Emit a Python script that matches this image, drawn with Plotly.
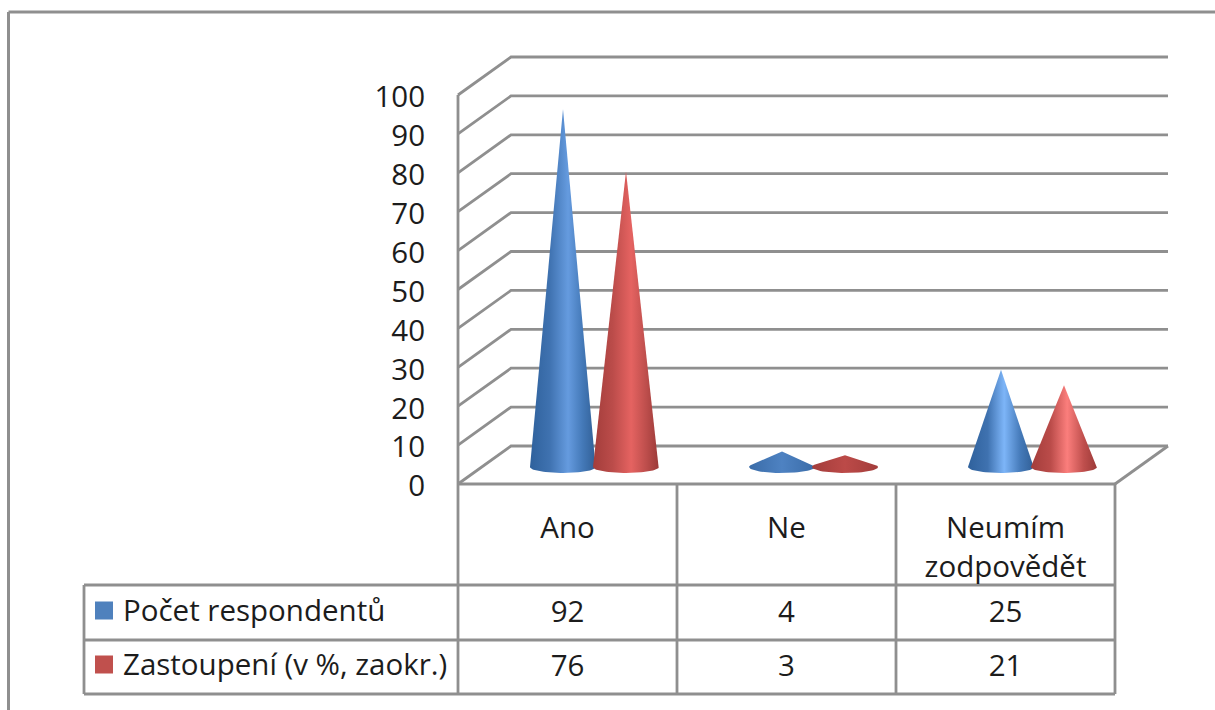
import math
import plotly.graph_objects as go

categories = ["Ano", "Ne", "Neumím<br>zodpovědět"]
series_names = ["Počet respondentů", "Zastoupení (v %, zaokr.)"]
pocet = [92, 4, 25]
zastoupeni = [76, 3, 21]
y_ticks = [0, 10, 20, 30, 40, 50, 60, 70, 80, 90, 100]

W, H = 1215, 710
X0, Y0 = 458, 484        # pixel of category 0, value 0
PX_CAT, PX_VAL = 219, 3.89


def xd(px):
    return (px - X0) / PX_CAT


def yd(py):
    return (Y0 - py) / PX_VAL


GRID = "#8f8f8f"
TXT = "#1c1c1c"
FONT = "Open Sans"
FS = 29.5

DEPTH_X = 53 / PX_CAT
DEPTH_Y = 38 / PX_VAL
BASE_Y = 17 / PX_VAL
CONE_A = 33 / PX_CAT
CONE_B = 6 / PX_VAL
OFFS = [105 / PX_CAT, 168 / PX_CAT]

tall_blue = [[0, "#2f619c"], [0.3, "#3f72b0"], [0.58, "#659bdf"], [0.8, "#4479b8"], [1, "#315f96"]]
tall_red = [[0, "#a33d3b"], [0.3, "#bb4c4a"], [0.58, "#e56361"], [0.8, "#bf4f4d"], [1, "#9c3a38"]]
mid_blue = [[0, "#2f619c"], [0.3, "#3f72b0"], [0.55, "#7db5f8"], [0.8, "#4479b8"], [1, "#315f96"]]
mid_red = [[0, "#a33d3b"], [0.3, "#bb4c4a"], [0.55, "#fb7e7c"], [0.8, "#bf4f4d"], [1, "#9c3a38"]]
flat_blue = [[0, "#3a6ca8"], [0.5, "#4e82c2"], [1, "#3a6ca8"]]
flat_red = [[0, "#a33d3b"], [0.5, "#bc4a48"], [1, "#a33d3b"]]


def pick(val, flat, mid, tall):
    if val < 8:
        return flat
    return mid if val < 50 else tall


fig = go.Figure()

# back wall + side wall gridlines
n_cat = len(categories)
for t in y_ticks:
    fig.add_trace(go.Scatter(
        x=[0, DEPTH_X, n_cat + DEPTH_X], y=[t, t + DEPTH_Y, t + DEPTH_Y],
        mode="lines", line=dict(color=GRID, width=2.8), hoverinfo="skip"))
# floor right edge
fig.add_trace(go.Scatter(
    x=[n_cat, n_cat + DEPTH_X], y=[0, DEPTH_Y],
    mode="lines", line=dict(color=GRID, width=2.8), hoverinfo="skip"))


def cone(cx, val, scale):
    h = val * PX_VAL
    b = CONE_B * PX_VAL
    th0 = math.asin(min(1, b / h))
    n = 40
    xs, ys = [cx], [BASE_Y + val]
    for i in range(n + 1):
        th = th0 - i / n * (math.pi + 2 * th0)
        xs.append(cx + CONE_A * math.cos(th))
        ys.append(BASE_Y + CONE_B * math.sin(th))
    xs.append(cx)
    ys.append(BASE_Y + val)
    fig.add_trace(go.Scatter(
        x=xs, y=ys, mode="lines", fill="toself", line=dict(width=0),
        fillgradient=dict(type="horizontal", colorscale=scale),
        hoverinfo="skip"))


for i in range(n_cat):
    cone(i + OFFS[0], pocet[i], pick(pocet[i], flat_blue, mid_blue, tall_blue))
    cone(i + OFFS[1], zastoupeni[i], pick(zastoupeni[i], flat_red, mid_red, tall_red))

# data table values
row_y = [yd(615), yd(669)]
for vals, ry in zip([pocet, zastoupeni], row_y):
    fig.add_trace(go.Scatter(
        x=[i + 0.5 for i in range(n_cat)], y=[ry] * n_cat,
        mode="text", text=[str(v) for v in vals],
        textfont=dict(family=FONT, size=FS, color=TXT),
        textposition="middle center", hoverinfo="skip"))

# legend keys
for color, ry in zip(["#4f81bd", "#c0504d"], row_y):
    fig.add_trace(go.Scatter(
        x=[xd(104)], y=[ry + 4.5 / PX_VAL], mode="markers",
        marker=dict(symbol="square", size=18, color=color, line=dict(width=0)),
        hoverinfo="skip"))

for name, ry in zip(series_names, row_y):
    fig.add_annotation(x=xd(121), y=ry + 6 / PX_VAL, text=name, showarrow=False, xanchor="left",
                       font=dict(family=FONT, size=FS, color=TXT))

# table + frame lines
def seg(a, b, c, d, width=2.8, color=GRID):
    fig.add_shape(type="line", x0=xd(a), x1=xd(c), y0=yd(b), y1=yd(d),
                  line=dict(color=color, width=width), layer="below")


seg(458, 95, 458, 694)
seg(458, 484, 1115, 484)
seg(677, 484, 677, 694)
seg(896, 484, 896, 694)
seg(1115, 484, 1115, 694)
seg(84, 585, 1115, 585)
seg(84, 640, 1115, 640)
seg(84, 694, 1115, 694)
seg(84, 585, 84, 694)
seg(8.5, 12, 1215, 12, 3)
seg(8.5, 12, 8.5, 710, 3)

fig.update_layout(
    width=W, height=H, margin=dict(l=0, r=0, t=0, b=0), autosize=False,
    paper_bgcolor="white", plot_bgcolor="white", showlegend=False,
    xaxis=dict(range=[xd(0), xd(W)], domain=[0, 1], anchor="free", position=(H - Y0) / H,
               tickmode="array", tickvals=[i + 0.5 for i in range(n_cat)], ticktext=categories,
               ticks="outside", ticklen=18, tickcolor="rgba(0,0,0,0)",
               tickfont=dict(family=FONT, size=FS, color=TXT),
               showgrid=False, zeroline=False, showline=False, tickangle=0, automargin=False),
    yaxis=dict(range=[yd(H), yd(0)], domain=[0, 1], anchor="free", position=X0 / W,
               tickmode="array", tickvals=y_ticks, ticktext=[str(t) for t in y_ticks],
               ticks="outside", ticklen=27, tickcolor="rgba(0,0,0,0)", ticklabelshift=2,
               tickfont=dict(family=FONT, size=FS, color=TXT),
               showgrid=False, zeroline=False, showline=False, automargin=False),
)

fig.write_html("out.html", config={"displayModeBar": False},
               post_script="document.body.style.margin='0';document.body.style.overflow='hidden';")
